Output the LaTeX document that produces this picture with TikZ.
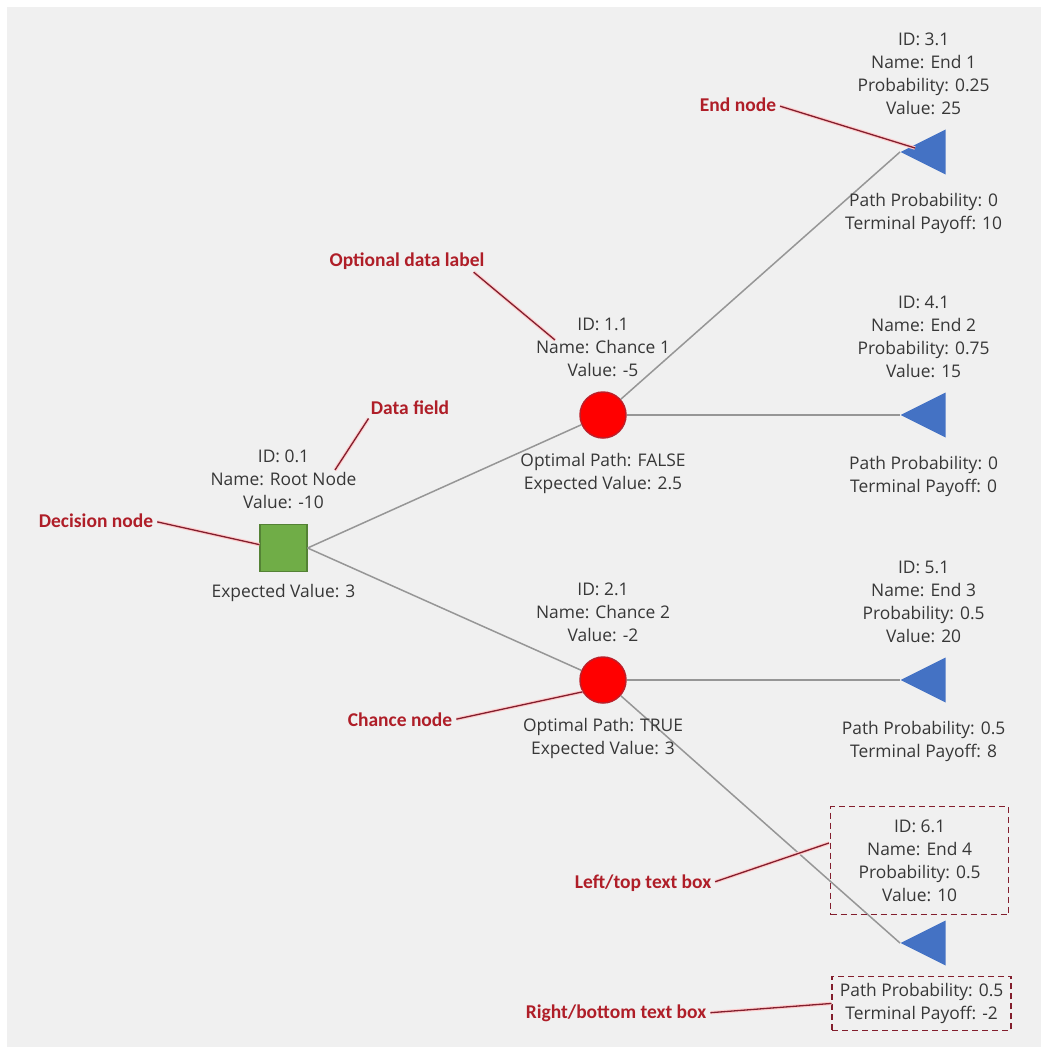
\documentclass[tikz,border=0pt]{standalone}
\usepackage{fontspec}
\setmainfont{Open Sans}
\newfontfamily\notefont{Carlito}
\usetikzlibrary{positioning,shapes.geometric}
\definecolor{panelgray}{RGB}{240,240,240}
\definecolor{decfill}{RGB}{112,173,71}
\definecolor{decdraw}{RGB}{84,130,53}
\definecolor{chancefill}{RGB}{255,0,0}
\definecolor{chancedraw}{RGB}{190,30,40}
\definecolor{endfill}{RGB}{68,114,196}
\definecolor{notecolor}{RGB}{175,30,40}
\definecolor{notedraw}{RGB}{130,30,45}
\definecolor{branchgray}{RGB}{150,150,150}
\definecolor{textgray}{RGB}{55,55,55}
\tikzset{
  decision/.style={rectangle, draw=decdraw, fill=decfill, line width=1.2pt,
    minimum size=47pt, inner sep=0pt},
  chance/.style={circle, draw=chancedraw, fill=chancefill, line width=1.5pt,
    minimum size=46pt, inner sep=0pt},
  endnode/.style={isosceles triangle, shape border rotate=180,
    isosceles triangle stretches, fill=endfill, minimum width=45pt,
    minimum height=45pt, inner sep=0pt, anchor=apex},
  info/.style={align=center, text=textgray,
    font=\fontsize{17.4}{23}\selectfont, inner sep=0pt},
  endtop/.style={info, above=21pt of #1, xshift=-8pt},
  endbot/.style={info, below=25pt of #1, xshift=-8pt},
  note/.style={text=notecolor, font=\notefont\bfseries\fontsize{19.5}{22}\selectfont,
    inner sep=0pt},
  callout/.style={draw=notedraw, line width=1.3pt, shorten <=4pt,
    preaction={draw=red!20, line width=3.5pt, shorten <=4pt}},
  branch/.style={draw=branchgray, line width=1.5pt},
  textbox/.style={draw=notedraw, dash pattern=on 6pt off 4pt, line width=1.3pt}
}
\begin{document}
\begin{tikzpicture}[x=1pt, y=-1pt]
    \useasboundingbox (0,0) rectangle (1047,1054);
    \fill[panelgray] (7,7) rectangle (1041,1047);
    % --- tree nodes ---
    \node[decision] (root) at (283.5,548) {};
    \node[chance] (c1) at (603,415) {};
    \node[chance] (c2) at (603,680) {};
    \node[endnode] (e1) at (900,152) {};
    \node[endnode] (e2) at (900,415) {};
    \node[endnode] (e3) at (900,680) {};
    \node[endnode] (e4) at (900,943) {};
    % --- branches ---
    \draw[branch] (root.east) -- (c1);
    \draw[branch] (root.east) -- (c2);
    \draw[branch] (c1) -- (e1.apex);
    \draw[branch] (c1) -- (e2.apex);
    \draw[branch] (c2) -- (e3.apex);
    \draw[branch] (c2) -- (e4.apex);
    % --- data labels ---
    \node[info, above=15pt of root] (rootTop) {ID: 0.1\\Name: Root Node\\Value: -10};
    \node[info, below=12pt of root] (rootBot) {Expected Value: 3};
    \node[info, above=14pt of c1] (c1Top) {ID: 1.1\\Name: Chance 1\\Value: -5};
    \node[info, below=14pt of c1] (c1Bot) {Optimal Path: FALSE\\Expected Value: 2.5};
    \node[info, above=14pt of c2] (c2Top) {ID: 2.1\\Name: Chance 2\\Value: -2};
    \node[info, below=14pt of c2] (c2Bot) {Optimal Path: TRUE\\Expected Value: 3};
    \node[endtop=e1] (e1Top) {ID: 3.1\\Name: End 1\\Probability: 0.25\\Value: 25};
    \node[endbot=e1] (e1Bot) {Path Probability: 0\\Terminal Payoff: 10};
    \node[endtop=e2] (e2Top) {ID: 4.1\\Name: End 2\\Probability: 0.75\\Value: 15};
    \node[endbot=e2] (e2Bot) {Path Probability: 0\\Terminal Payoff: 0};
    \node[endtop=e3] (e3Top) {ID: 5.1\\Name: End 3\\Probability: 0.5\\Value: 20};
    \node[endbot=e3] (e3Bot) {Path Probability: 0.5\\Terminal Payoff: 8};
    \node[info, textbox, minimum width=178pt, minimum height=108pt,
      above=12pt of e4, xshift=-12pt]
      (e4Top) {ID: 6.1\\Name: End 4\\Probability: 0.5\\Value: 10};
    \node[info, textbox, minimum width=179pt, minimum height=54pt,
      below=17pt of e4, xshift=-10pt]
      (e4Bot) {Path Probability: 0.5\\Terminal Payoff: -2};
    % --- callouts ---
    \node[note] (noteEnd) at (738,105) {End node};
    \node[note] (noteOpt) at (407,261) {Optional data label};
    \node[note] (noteData) at (410,408) {Data field};
    \node[note] (noteDec) at (96,521) {Decision node};
    \node[note] (noteChance) at (400,720) {Chance node};
    \node[note] (noteLeft) at (643,883) {Left/top text box};
    \node[note] (noteRight) at (616,1013) {Right/bottom text box};
    \coordinate (tipEnd) at (915,148);
    \coordinate (tipOpt) at (555,340);
    \coordinate (tipData) at (335,470);
    \coordinate (tipLeft) at (829,843);
    \draw[callout] (noteEnd.east) -- (tipEnd);
    \draw[callout] ([xshift=-14pt]noteOpt.south east) -- (tipOpt);
    \draw[callout] (noteData.south west) -- (tipData);
    \draw[callout] (noteDec.east) -- (root.172);
    \draw[callout] (noteChance.east) -- (c2.210);
    \draw[callout] (noteLeft.east) -- (tipLeft);
    \draw[callout] (noteRight.east) -- (e4Bot.west);
\end{tikzpicture}
\end{document}
